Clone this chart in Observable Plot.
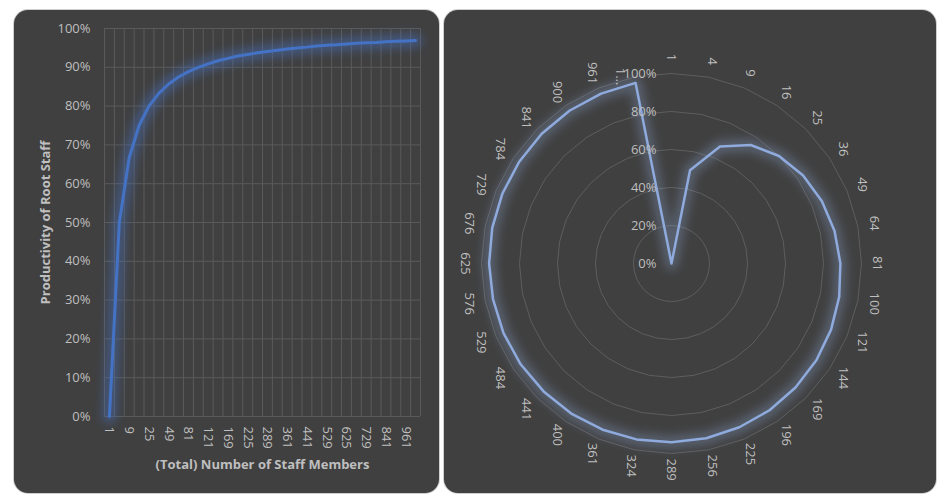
<!DOCTYPE html>
<html><head><meta charset="utf-8">
<script src="https://cdn.jsdelivr.net/npm/d3@7"></script>
<script src="https://cdn.jsdelivr.net/npm/@observablehq/plot@0.6"></script>
<style>
html,body{margin:0;padding:0;background:#fff;width:945px;height:504px;overflow:hidden;font-family:"Open Sans",sans-serif;}
.panel{position:absolute;background:#404040;border-radius:14px;overflow:hidden;box-shadow:0 0 0 1px #cfcfcf;}
#left{left:14px;top:10px;width:425px;height:483px;}
#right{left:444px;top:10px;width:492px;height:483px;}
.panel svg{position:absolute;left:0;top:0;}
</style></head><body>
<div id="left" class="panel"></div>
<div id="right" class="panel"></div>
<script>
// ---- data ----
const staffCounts = [1,4,9,16,25,36,49,64,81,100,121,144,169,196,225,256,289,324,361,400,441,484,529,576,625,676,729,784,841,900,961,1024];
const productivity = [0,0.5,0.667,0.75,0.8,0.833,0.857,0.875,0.889,0.9,0.909,0.917,0.923,0.929,0.933,0.9375,0.941,0.944,0.947,0.95,0.952,0.955,0.957,0.958,0.96,0.962,0.963,0.964,0.966,0.967,0.968,0.969];
const percentTicks = [0,0.1,0.2,0.3,0.4,0.5,0.6,0.7,0.8,0.9,1];
const radarTicks = [0,0.2,0.4,0.6,0.8,1];
const radarRings = [0.2,0.4,0.6,0.8,1];
const xTitle = "(Total) Number of Staff Members";
const yTitle = "Productivity of Root Staff";

// ---- styles ----
const TXT = "#bfbfbf";
const GRID = "#5a5a5a";
const FONT = "'Open Sans', sans-serif";
const pct = d3.format(".0%");

function addGlow(svg, id, std, groupIndex) {
  const ns = "http://www.w3.org/2000/svg";
  const defs = document.createElementNS(ns, "defs");
  const f = document.createElementNS(ns, "filter");
  f.setAttribute("id", id);
  f.setAttribute("x", "-20%"); f.setAttribute("y", "-20%");
  f.setAttribute("width", "140%"); f.setAttribute("height", "140%");
  const b = document.createElementNS(ns, "feGaussianBlur");
  b.setAttribute("stdDeviation", std);
  f.appendChild(b); defs.appendChild(f);
  svg.insertBefore(defs, svg.firstChild);
  const groups = svg.querySelectorAll('g[aria-label="line"]');
  if (groups[groupIndex]) groups[groupIndex].setAttribute("filter", `url(#${id})`);
}

// ---- left: line chart ----
const idx = d3.range(staffCounts.length);
const leftData = idx.map(i => ({i, v: productivity[i]}));
const boundaries = d3.range(staffCounts.length + 1).map(i => i - 0.5);

const leftPlot = Plot.plot({
  width: 425, height: 483,
  marginLeft: 90, marginRight: 19, marginTop: 18, marginBottom: 77,
  style: {background: "transparent", color: TXT, fontFamily: FONT, fontSize: "13px", overflow: "visible"},
  x: {type: "linear", domain: [-0.5, staffCounts.length - 0.5]},
  y: {domain: [0, 1]},
  marks: [
    Plot.ruleY(percentTicks, {stroke: GRID, strokeWidth: 1}),
    Plot.ruleX(boundaries, {stroke: GRID, strokeWidth: 1}),
    Plot.axisY(percentTicks, {tickFormat: pct, tickSize: 0, tickPadding: 14, fontSize: 13, fill: TXT, label: null}),
    Plot.axisX(idx.filter(i => i % 2 === 0), {tickFormat: i => String(staffCounts[i]), tickRotate: 90, tickSize: 0, tickPadding: 10, fontSize: 13, fill: TXT, label: null}),
    Plot.line(leftData, {x: "i", y: "v", stroke: "#4472C4", strokeWidth: 14, strokeOpacity: 0.45}),
    Plot.line(leftData, {x: "i", y: "v", stroke: "#4472C4", strokeWidth: 3}),
    Plot.text([xTitle], {text: d => d, frameAnchor: "bottom", dy: 48, textAnchor: "middle", lineAnchor: "middle", fontWeight: "bold", fontSize: 13, fill: TXT}),
    Plot.text([yTitle], {text: d => d, frameAnchor: "left", dx: -59, rotate: -90, textAnchor: "middle", lineAnchor: "middle", fontWeight: "bold", fontSize: 13, fill: TXT})
  ]
});
addGlow(leftPlot, "glowL", 5, 0);
document.getElementById("left").appendChild(leftPlot);

// ---- right: radar chart ----
const W = 492, H = 483, CX = 227, CY = 253, R = 190;
const n = staffCounts.length;
const ang = i => i * 2 * Math.PI / n;
const radarPts = idx.map(i => ({x: productivity[i] * Math.sin(ang(i)), y: productivity[i] * Math.cos(ang(i))}));
const ringPts = radarRings.flatMap(r => idx.map(i => ({ring: r, x: r * Math.sin(ang(i)), y: r * Math.cos(ang(i))})));
const labelR = 1.085;
const catLabels = idx.map(i => ({
  label: i === n - 1 ? String(staffCounts[i]).slice(0, 1) + "…" : String(staffCounts[i]),
  r: i === n - 1 ? 1.02 : labelR,
  a: i === n - 1 ? ang(i) - 0.07 : ang(i)
})).map(d => ({label: d.label, x: d.r * Math.sin(d.a), y: d.r * Math.cos(d.a)}));

const rightPlot = Plot.plot({
  width: W, height: H,
  margin: 0,
  style: {background: "transparent", color: TXT, fontFamily: FONT, fontSize: "13px", overflow: "visible"},
  x: {domain: [-CX / R, (W - CX) / R]},
  y: {domain: [-(H - CY) / R, CY / R]},
  axis: null,
  marks: [
    Plot.line(ringPts, {x: "x", y: "y", z: "ring", curve: "linear-closed", stroke: "#5e5e5e", strokeWidth: 1}),
    Plot.line(radarPts, {x: "x", y: "y", curve: "linear-closed", stroke: "#8FAADC", strokeWidth: 13, strokeOpacity: 0.3}),
    Plot.line(radarPts, {x: "x", y: "y", curve: "linear-closed", stroke: "#8FAADC", strokeWidth: 2.5}),
    Plot.text(radarTicks, {x: 0, y: d => d, text: d => pct(d), textAnchor: "end", dx: -15, fontSize: 13, fill: TXT}),
    Plot.text(catLabels, {x: "x", y: "y", text: "label", rotate: 90, textAnchor: "middle", lineAnchor: "middle", fontSize: 13, fill: TXT})
  ]
});
addGlow(rightPlot, "glowR", 5, 1);
document.getElementById("right").appendChild(rightPlot);
</script>
</body></html>
